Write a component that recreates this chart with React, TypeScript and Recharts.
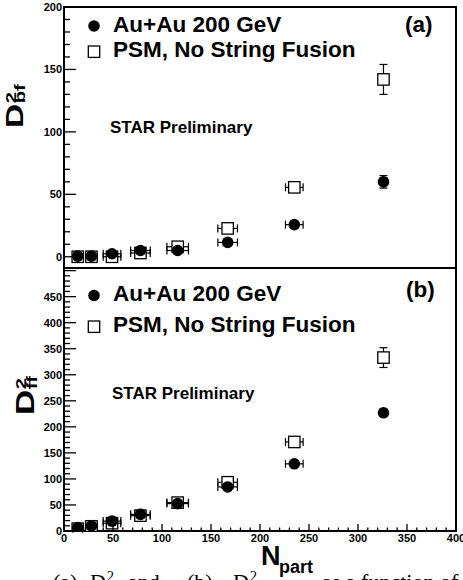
import React from "react";
import { ScatterChart, Scatter, XAxis, YAxis, ErrorBar, ReferenceArea } from "recharts";

// centrality bins (N_part) and their horizontal errors
const npart = [14, 28, 49, 78, 116, 167, 235, 326];
const npartErr = [5, 6, 9, 10, 11, 10, 9, 4];

// (a) D^2_bf
const bfData = [0.5, 0.5, 2.4, 5, 5, 11.5, 25.7, 60];
const bfDataErr = [0.5, 0.5, 1, 1, 1, 1.5, 2, 5];
const bfPsm = [0, 0, 0, 3, 8, 22.7, 55.6, 142];
const bfPsmErr = [0.5, 0.5, 0.5, 1, 1, 2, 3, 12];

// (b) D^2_ff
const ffData = [6.4, 10, 19, 32, 52.6, 84.6, 129, 227];
const ffDataErr = [1, 1, 2, 2, 3, 4, 4, 5];
const ffPsm = [4.5, 9, 15, 29.5, 54.5, 93.6, 171, 333];
const ffPsmErr = [2, 2, 2, 3, 3, 5, 6, 19];

const xLabels = [0, 50, 100, 150, 200, 250, 300, 350, 400];
const bfLabels = [0, 50, 100, 150, 200];
const ffLabels = [0, 50, 100, 150, 200, 250, 300, 350, 400, 450];

const FONT = "'Liberation Sans', Arial, Helvetica, sans-serif";

const fillTicks = (lo: number, hi: number) => {
  const t: number[] = [];
  for (let v = lo; v <= hi; v += 10) t.push(v);
  return t;
};

const pts = (ys: number[], eys: number[]) =>
  npart.map((x, i) => ({ x, y: ys[i], ex: npartErr[i], ey: eys[i] }));

const Dot = (p: any) => <circle cx={p.cx} cy={p.cy} r={5.8} fill="#000" />;
const Box = (p: any) => (
  <rect x={p.cx - 5.7} y={p.cy - 5.7} width={11.4} height={11.4} fill="#fff" stroke="#000" strokeWidth={1.3} />
);

function yTick(labels: number[]) {
  return (p: any) => {
    const v = p.payload.value;
    const major = v % 50 === 0;
    return (
      <g>
        <line x1={p.x} y1={p.y} x2={p.x + (major ? 12 : 6)} y2={p.y} stroke="#000" strokeWidth={1.3} />
        {labels.includes(v) && (
          <text x={p.x - 2} y={p.y + 4} textAnchor="end" fontSize={11} fontWeight="bold" fontFamily={FONT} fill="#000">
            {v}
          </text>
        )}
      </g>
    );
  };
}

function xTick(labels: number[]) {
  return (p: any) => {
    const v = p.payload.value;
    const major = v % 50 === 0;
    return (
      <g>
        <line x1={p.x} y1={p.y} x2={p.x} y2={p.y - (major ? 7 : 3.5)} stroke="#000" strokeWidth={1.3} />
        {labels.includes(v) && (
          <text x={p.x} y={p.y + 11} textAnchor="middle" fontSize={11} fontWeight="bold" fontFamily={FONT} fill="#000">
            {v}
          </text>
        )}
      </g>
    );
  };
}

function Panel({
  height, margin, xHeight, yDomain, yTicks, yLabels, xLabelList, data, psm,
}: any) {
  return (
    <ScatterChart width={463} height={height} margin={margin}>
      <XAxis
        type="number" dataKey="x" domain={[0, 400]} allowDataOverflow ticks={fillTicks(0, 400)} interval={0}
        height={xHeight} tickSize={0} tickMargin={0} tickLine={false} axisLine={false} tick={xTick(xLabelList)}
      />
      <YAxis
        type="number" dataKey="y" domain={yDomain} allowDataOverflow ticks={yTicks} interval={0}
        width={64} tickSize={0} tickMargin={0} tickLine={false} axisLine={false} tick={yTick(yLabels)}
      />
      <ReferenceArea x1={0} x2={400} y1={yDomain[0]} y2={yDomain[1]} fill="none" stroke="#000" strokeWidth={2} />
      <Scatter data={psm} shape={Box} isAnimationActive={false}>
        <ErrorBar dataKey="ex" direction="x" width={4} stroke="#000" strokeWidth={1.2} />
        <ErrorBar dataKey="ey" direction="y" width={4} stroke="#000" strokeWidth={1.2} />
      </Scatter>
      <Scatter data={data} shape={Dot} isAnimationActive={false}>
        <ErrorBar dataKey="ex" direction="x" width={4} stroke="#000" strokeWidth={1.2} />
        <ErrorBar dataKey="ey" direction="y" width={4} stroke="#000" strokeWidth={1.2} />
      </Scatter>
    </ScatterChart>
  );
}

const txt = { fontFamily: FONT, fontWeight: "bold" as const, fill: "#000" };

export default function App() {
  return (
    <div style={{ position: "absolute", left: 0, top: 0, width: 463, height: 580, background: "#fff", overflow: "hidden" }}>
      <div style={{ position: "absolute", left: 0, top: 0 }}>
        <Panel
          height={270} margin={{ top: 7, right: 7, bottom: 2, left: 0 }} xHeight={0}
          yDomain={[-9, 200]} yTicks={fillTicks(0, 200)} yLabels={bfLabels} xLabelList={[]}
          data={pts(bfData, bfDataErr)} psm={pts(bfPsm, bfPsmErr)}
        />
      </div>
      <div style={{ position: "absolute", left: 0, top: 260 }}>
        <Panel
          height={320} margin={{ top: 8, right: 7, bottom: 0, left: 0 }} xHeight={49}
          yDomain={[0, 505]} yTicks={fillTicks(0, 500)} yLabels={ffLabels} xLabelList={xLabels}
          data={pts(ffData, ffDataErr)} psm={pts(ffPsm, ffPsmErr)}
        />
      </div>
      <svg width={463} height={580} style={{ position: "absolute", left: 0, top: 0, pointerEvents: "none" }}>
        {/* panel (a) */}
        <circle cx={94} cy={26} r={5.8} fill="#000" />
        <text x={113} y={32} fontSize={22.5} {...txt}>Au+Au 200 GeV</text>
        <rect x={88.3} y={46} width={11.4} height={11.4} fill="#fff" stroke="#000" strokeWidth={1.3} />
        <text x={113} y={57} fontSize={22.5} {...txt}>PSM, No String Fusion</text>
        <text x={405} y={32} fontSize={22.5} {...txt}>(a)</text>
        <text x={110} y={133} fontSize={17} {...txt}>STAR Preliminary</text>
        <g transform="translate(23,128) rotate(-90) scale(1.45,1)">
          <text x={0} y={0} fontSize={23} {...txt}>D</text>
          <text x={17} y={-7} fontSize={14} {...txt}>2</text>
          <text x={17} y={2} fontSize={14} {...txt}>bf</text>
        </g>

        {/* panel (b) */}
        <circle cx={94} cy={295.5} r={5.8} fill="#000" />
        <text x={113} y={301} fontSize={22.5} {...txt}>Au+Au 200 GeV</text>
        <rect x={88.3} y={321} width={11.4} height={11.4} fill="#fff" stroke="#000" strokeWidth={1.3} />
        <text x={113} y={332} fontSize={22.5} {...txt}>PSM, No String Fusion</text>
        <text x={406} y={297} fontSize={22.5} {...txt}>(b)</text>
        <text x={112} y={399} fontSize={17} {...txt}>STAR Preliminary</text>
        <g transform="translate(34,415) rotate(-90) scale(1.35,1)">
          <text x={0} y={0} fontSize={26} {...txt}>D</text>
          <text x={19} y={-8} fontSize={15} {...txt}>2</text>
          <text x={19} y={3} fontSize={15} {...txt}>ff</text>
        </g>

        {/* x title */}
        <text x={261} y={565} fontSize={27} {...txt}>N</text>
        <text x={279} y={573} fontSize={18} {...txt}>part</text>

        {/* clipped caption */}
        <g fontFamily="'Liberation Serif', 'Times New Roman', serif" fontSize={22} fill="#000">
          <text x={53} y={589}>(a)</text>
          <text x={90} y={589}>D</text>
          <text x={107} y={581} fontSize={14}>2</text>
          <text x={128} y={589}>and</text>
          <text x={187} y={589}>(b)</text>
          <text x={233} y={589}>D</text>
          <text x={250} y={581} fontSize={14}>2</text>
          <text x={322} y={589}>as a function of N</text>
        </g>
      </svg>
    </div>
  );
}
